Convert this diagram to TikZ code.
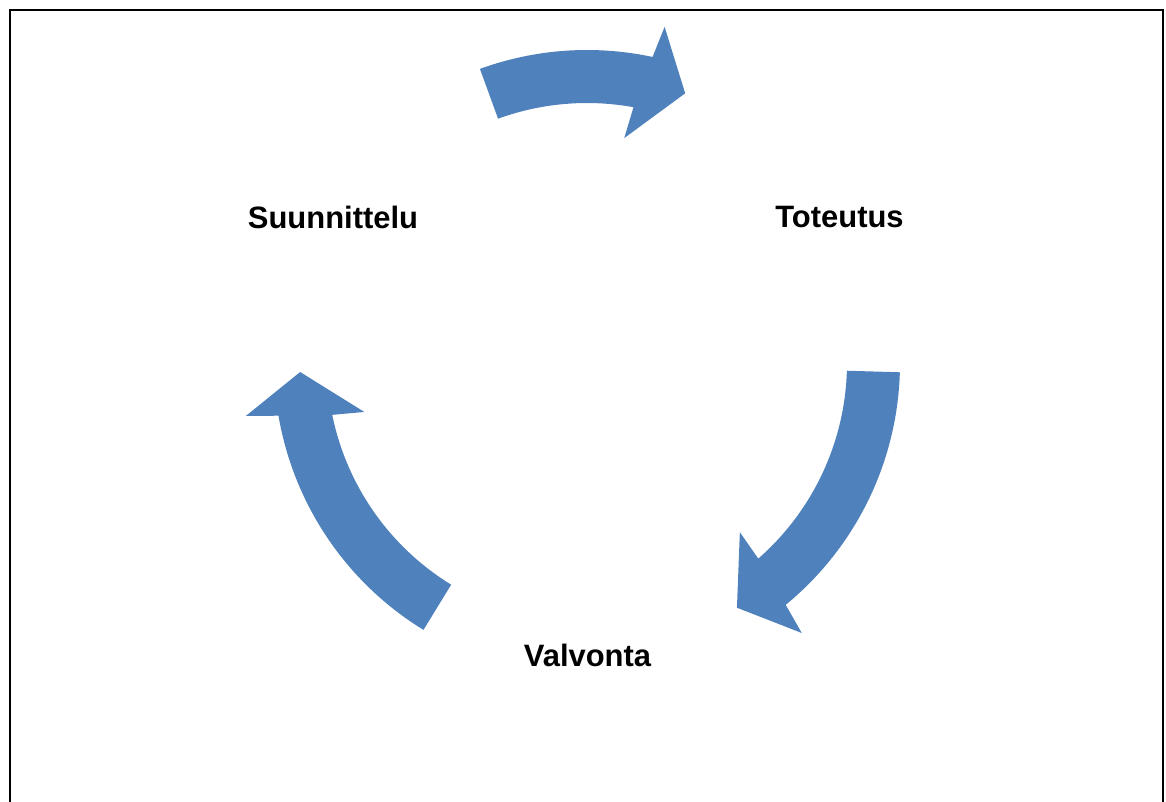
\documentclass[tikz,border=0pt]{standalone}
\usepackage{fontspec}
\setmainfont{Liberation Sans}
\definecolor{cycleblue}{HTML}{4F81BD}
\tikzset{
  label/.style={font=\fontsize{23.2}{27}\selectfont\bfseries, inner sep=0pt, anchor=center},
  arrowfill/.style={fill=cycleblue, draw=none},
  frame/.style={draw=black, line width=1.6pt}
}
% curved block arrow around the cycle centre, running clockwise
% #1 = tail angle, #2 = tip angle (degrees, tail > tip)
\newcommand{\cyclearrow}[2]{%
  \fill[arrowfill]
    plot[domain=#1:#2+7.9, samples=60] (\x:313)
    -- (#2+7:345) -- (#2:287) -- (#2+10.6:228)
    -- plot[domain=#2+9.7:#1, samples=60] (\x:260)
    -- cycle;
}
\begin{document}
\begin{tikzpicture}[x=0.75pt,y=-0.75pt]
  \useasboundingbox (0,0) rectangle (1166,801);
  \fill[white] (0,0) rectangle (1166,801);

  % open frame (runs off the bottom edge)
  \draw[frame] (10,806) -- (10,10) -- (1163,10) -- (1163,806);

  % the three cycle arrows
  \begin{scope}[shift={(587,363)}, y=0.75pt]
    \cyclearrow{110}{70}
    \cyclearrow{-1.7}{-58.5}
    \cyclearrow{238.5}{181.8}
  \end{scope}

  % stage labels
  \node[label] (plan) at (333,217) {Suunnittelu};
  \node[label] (exec) at (839.5,217) {Toteutus};
  \node[label] (ctrl) at (587.5,655) {Valvonta};
\end{tikzpicture}
\end{document}
